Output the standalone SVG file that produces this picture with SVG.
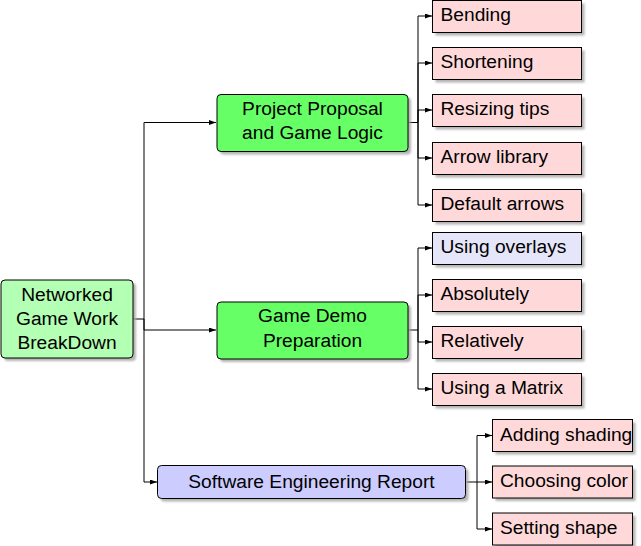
<svg xmlns="http://www.w3.org/2000/svg" width="641" height="546" viewBox="0 0 641 546">
<defs>
<marker id="arr" markerWidth="8" markerHeight="6" refX="7" refY="2.5" orient="auto" markerUnits="userSpaceOnUse">
<path d="M0,0 L7,2.5 L0,5 z" fill="#000"/>
</marker>
<filter id="sh" x="-10%" y="-10%" width="130%" height="140%">
<feGaussianBlur stdDeviation="0.8"/>
</filter>
<style>
.t{font-family:"Liberation Sans","Noto Sans",sans-serif;font-size:19.2px;fill:#000}
.c{text-anchor:middle}
.box{stroke:#000;stroke-width:1}
.shadow{fill:#a6a6a6;opacity:0.85;filter:url(#sh)}
.leaf{fill:#ffd9d9}
.ov{fill:#e6e6fa}
.g1{fill:#b3ffb3}
.g2{fill:#66ff66}
.bl{fill:#ccccff}
.con{fill:none;stroke:#000;stroke-width:1}
</style>
</defs>
<g id="connectors">
<path class="con" d="M133,319 H144"/>
<path class="con" d="M144,319 V122.5 H216" marker-end="url(#arr)"/>
<path class="con" d="M144,319 V330 H216" marker-end="url(#arr)"/>
<path class="con" d="M144,319 V482 H157" marker-end="url(#arr)"/>
<path class="con" d="M408,122.5 H418"/>
<path class="con" d="M418,122.5 V16 H432" marker-end="url(#arr)"/>
<path class="con" d="M418,122.5 V63 H432" marker-end="url(#arr)"/>
<path class="con" d="M418,122.5 V110 H432" marker-end="url(#arr)"/>
<path class="con" d="M418,122.5 V158 H432" marker-end="url(#arr)"/>
<path class="con" d="M418,122.5 V205 H432" marker-end="url(#arr)"/>
<path class="con" d="M408,330 H418"/>
<path class="con" d="M418,330 V248 H432" marker-end="url(#arr)"/>
<path class="con" d="M418,330 V295 H432" marker-end="url(#arr)"/>
<path class="con" d="M418,330 V342 H432" marker-end="url(#arr)"/>
<path class="con" d="M418,330 V389 H432" marker-end="url(#arr)"/>
<path class="con" d="M466,482 H477"/>
<path class="con" d="M477,482 V435.5 H492" marker-end="url(#arr)"/>
<path class="con" d="M477,482 V482 H492" marker-end="url(#arr)"/>
<path class="con" d="M477,482 V529 H492" marker-end="url(#arr)"/>
</g>
<g id="root">
<rect class="shadow" x="4" y="283" width="132" height="78" rx="4"/>
<rect class="box g1" x="1" y="280" width="132" height="78" rx="4"/>
<text class="t c" x="67" y="300.5">Networked</text>
<text class="t c" x="67" y="324.5">Game Work</text>
<text class="t c" x="67" y="348.5">BreakDown</text>
</g>
<g id="proposal">
<rect class="shadow" x="220" y="97.5" width="191" height="57" rx="4"/>
<rect class="box g2" x="217" y="94.5" width="191" height="57" rx="4"/>
<text class="t c" x="312.5" y="114.5">Project Proposal</text>
<text class="t c" x="312.5" y="138.5">and Game Logic</text>
</g>
<g id="demo">
<rect class="shadow" x="220" y="305" width="191" height="57" rx="4"/>
<rect class="box g2" x="217" y="302" width="191" height="57" rx="4"/>
<text class="t c" x="312.5" y="321.5">Game Demo</text>
<text class="t c" x="312.5" y="346.5">Preparation</text>
</g>
<g id="report">
<rect class="shadow" x="160.5" y="468.5" width="308" height="33" rx="4"/>
<rect class="box bl" x="157.5" y="465.5" width="308" height="33" rx="4"/>
<text class="t c" x="311.5" y="487.5">Software Engineering Report</text>
</g>
<g id="bending">
<rect class="shadow" x="435.5" y="3.5" width="149" height="32"/>
<rect class="box leaf" x="432.5" y="0.5" width="149" height="32"/>
<text class="t" x="440.5" y="21">Bending</text>
</g>
<g id="shortening">
<rect class="shadow" x="435.5" y="50.5" width="149" height="32"/>
<rect class="box leaf" x="432.5" y="47.5" width="149" height="32"/>
<text class="t" x="440.5" y="68">Shortening</text>
</g>
<g id="resizing">
<rect class="shadow" x="435.5" y="97.5" width="149" height="32"/>
<rect class="box leaf" x="432.5" y="94.5" width="149" height="32"/>
<text class="t" x="440.5" y="115">Resizing tips</text>
</g>
<g id="arrowlib">
<rect class="shadow" x="435.5" y="145.5" width="149" height="32"/>
<rect class="box leaf" x="432.5" y="142.5" width="149" height="32"/>
<text class="t" x="440.5" y="163">Arrow library</text>
</g>
<g id="defaultarrows">
<rect class="shadow" x="435.5" y="192.5" width="149" height="32"/>
<rect class="box leaf" x="432.5" y="189.5" width="149" height="32"/>
<text class="t" x="440.5" y="210">Default arrows</text>
</g>
<g id="overlays">
<rect class="shadow" x="435.5" y="235.5" width="149" height="32"/>
<rect class="box ov" x="432.5" y="232.5" width="149" height="32"/>
<text class="t" x="440.5" y="253">Using overlays</text>
</g>
<g id="absolutely">
<rect class="shadow" x="435.5" y="282.5" width="149" height="32"/>
<rect class="box leaf" x="432.5" y="279.5" width="149" height="32"/>
<text class="t" x="440.5" y="300">Absolutely</text>
</g>
<g id="relatively">
<rect class="shadow" x="435.5" y="329.5" width="149" height="32"/>
<rect class="box leaf" x="432.5" y="326.5" width="149" height="32"/>
<text class="t" x="440.5" y="347">Relatively</text>
</g>
<g id="matrix">
<rect class="shadow" x="435.5" y="376.5" width="149" height="32"/>
<rect class="box leaf" x="432.5" y="373.5" width="149" height="32"/>
<text class="t" x="440.5" y="394">Using a Matrix</text>
</g>
<g id="shading">
<rect class="shadow" x="495.5" y="422.5" width="140" height="32"/>
<rect class="box leaf" x="492.5" y="419.5" width="140" height="32"/>
<text class="t" x="500" y="440.5">Adding shading</text>
</g>
<g id="color">
<rect class="shadow" x="495.5" y="469" width="140" height="32"/>
<rect class="box leaf" x="492.5" y="466" width="140" height="32"/>
<text class="t" x="500" y="487">Choosing color</text>
</g>
<g id="shape">
<rect class="shadow" x="495.5" y="516" width="140" height="32"/>
<rect class="box leaf" x="492.5" y="513" width="140" height="32"/>
<text class="t" x="500" y="534">Setting shape</text>
</g>
</svg>
